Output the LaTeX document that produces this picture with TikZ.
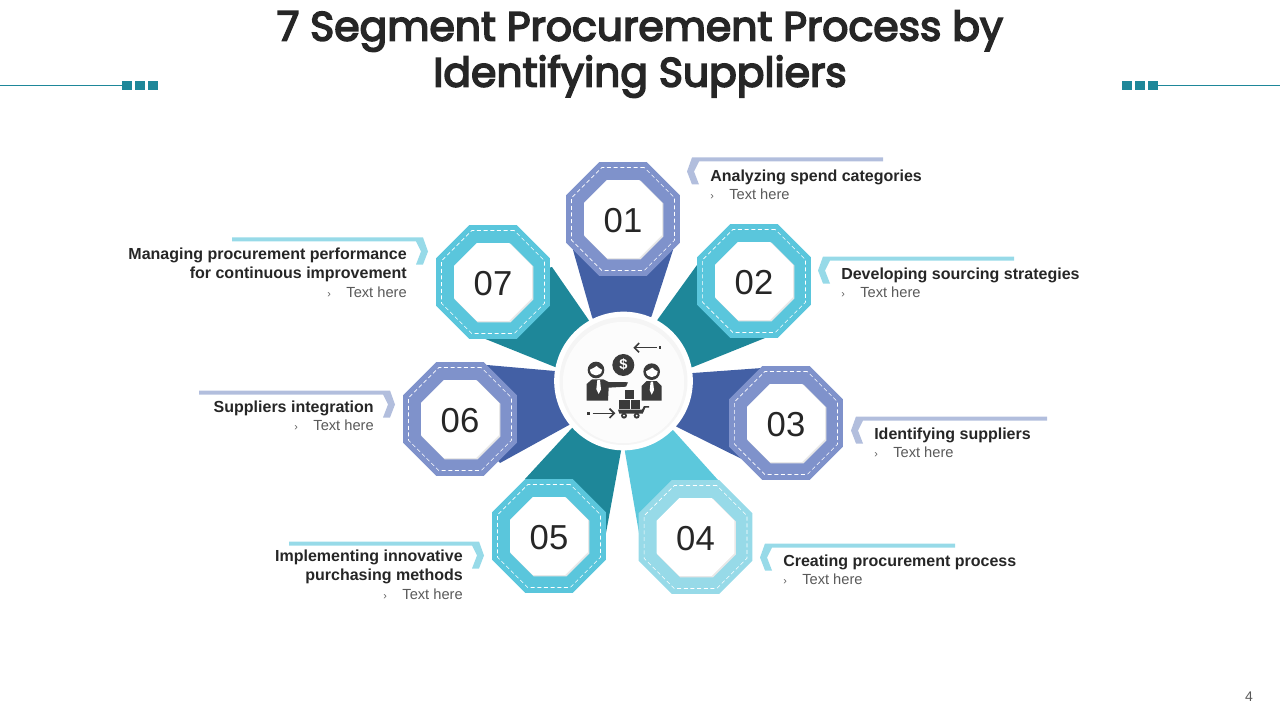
\documentclass[tikz,border=0pt]{standalone}
\usepackage{fontspec}
\setmainfont{Liberation Sans}
\newfontfamily\titlefont[FakeBold=4]{Poppins}
\usetikzlibrary{shapes.geometric,arrows.meta}
\definecolor{segblue}{RGB}{67,96,165}
\definecolor{segteal}{RGB}{30,135,153}
\definecolor{segcyan}{RGB}{92,200,220}
\definecolor{octblue}{RGB}{127,146,203}
\definecolor{octcyan}{RGB}{90,198,220}
\definecolor{octpale}{RGB}{151,218,232}
\definecolor{tabblue}{RGB}{178,190,221}
\definecolor{inkdark}{RGB}{38,38,38}
\definecolor{inkgray}{RGB}{89,89,89}
\definecolor{icongray}{RGB}{58,58,58}
\tikzset{
  octout/.style={regular polygon, regular polygon sides=8, minimum size=92.5pt, inner sep=0pt, outer sep=0pt},
  octdash/.style={octout, minimum size=83.5pt, draw=white, line width=0.5pt, dash pattern=on 3pt off 2pt},
  octshade/.style={octout, minimum size=64pt, fill=black!9},
  octin/.style={octout, minimum size=63.3pt, fill=white, font=\fontsize{26}{29}\selectfont, text=inkdark, text height=20.5pt, text depth=0pt},
  labelleft/.style={anchor=base west, align=left, inner sep=0pt, font=\fontsize{12}{13.9}\selectfont\bfseries, text=inkdark},
  labelright/.style={labelleft, anchor=base east, align=right}
}
\newcommand{\subline}{{\mdseries\fontsize{11}{13.9}\selectfont\color{inkgray}\makebox[14.25pt][l]{\fontsize{8}{8}\selectfont ›}Text here}}
\newcommand{\petal}[6]{\fill[#1] (ctr) -- #3 -- #4 -- (#2) -- #5 -- #6 -- cycle;}
\newcommand{\tabright}[4]{\fill[#1] (#2+5,#3) -- (#4,#3) -- (#4,#3+4) -- (#2+12,#3+4) -- (#2+7,#3+14) -- (#2+12,#3+27) -- (#2+5,#3+27) -- (#2,#3+14) -- cycle;}
\newcommand{\tableft}[4]{\fill[#1] (#2-5,#3) -- (#4,#3) -- (#4,#3+4) -- (#2-12,#3+4) -- (#2-7,#3+14) -- (#2-12,#3+27) -- (#2-5,#3+27) -- (#2,#3+14) -- cycle;}
\begin{document}
\begin{tikzpicture}[x=0.75pt, y=-0.75pt]
  \useasboundingbox (0,0) rectangle (1280,720);
  \coordinate (ctr) at (623.5,381);
  \coordinate (pos1) at (623,219);
  \coordinate (pos2) at (754,281);
  \coordinate (pos3) at (786,423);
  \coordinate (pos4) at (695.5,537);
  \coordinate (pos5) at (549,536);
  \coordinate (pos6) at (460,419);
  \coordinate (pos7) at (493,282);

  % title and page number
  \node [font=\titlefont\fontsize{30.7}{34.5}\selectfont, align=center, text=inkdark, inner sep=0pt] (title) at (640,54) {7 Segment Procurement Process by\\Identifying Suppliers};
  \node [font=\fontsize{10.5}{12}\selectfont, text=inkgray, inner sep=0pt] (pagenum) at (1249,697) {4};

  % rules beside the title
  \coordinate (ruleL) at (0,85.5);
  \coordinate (ruleR) at (1280,85.5);
  \node [fill=segteal, minimum size=7pt, inner sep=0pt] (sqa) at (127,85.5) {};
  \node [fill=segteal, minimum size=7pt, inner sep=0pt] (sqb) at (140,85.5) {};
  \node [fill=segteal, minimum size=7pt, inner sep=0pt] (sqc) at (153,85.5) {};
  \node [fill=segteal, minimum size=7pt, inner sep=0pt] (sqd) at (1127,85.5) {};
  \node [fill=segteal, minimum size=7pt, inner sep=0pt] (sqe) at (1140,85.5) {};
  \node [fill=segteal, minimum size=7pt, inner sep=0pt] (sqf) at (1153,85.5) {};
  \draw [segteal, line width=1pt] (ruleL) -- (sqa);
  \draw [segteal, line width=1pt] (sqf) -- (ruleR);

  % petals
  \petal{segblue}{pos1}{(592,317)}{(573,250)}{(673,250)}{(652,315)}
  \petal{segteal}{pos2}{(658,319)}{(697,265)}{(765,338)}{(693,367)}
  \petal{segblue}{pos3}{(693,373)}{(762,368)}{(750,463)}{(677,427)}
  \petal{segcyan}{pos4}{(673,430)}{(718,480)}{(639,533)}{(625,452)}
  \petal{segteal}{pos5}{(621,451)}{(606,533)}{(525,479)}{(572,428)}
  \petal{segblue}{pos6}{(569,425)}{(500,463)}{(487,365)}{(555,371)}
  \petal{segteal}{pos7}{(555,367)}{(483,338)}{(552,267)}{(588,319)}

  % octagons
  \node [octout, fill=octblue] (oct1) at (pos1) {};
  \node [octdash] at (oct1) {};
  \node [octshade] at ([shift={(1,1)}]oct1) {};
  \node [octin] at (oct1) {01};
  \node [octout, fill=octcyan] (oct2) at (pos2) {};
  \node [octdash] at (oct2) {};
  \node [octshade] at ([shift={(1,1)}]oct2) {};
  \node [octin] at (oct2) {02};
  \node [octout, fill=octblue] (oct3) at (pos3) {};
  \node [octdash] at (oct3) {};
  \node [octshade] at ([shift={(1,1)}]oct3) {};
  \node [octin] at (oct3) {03};
  \node [octout, fill=octpale] (oct4) at (pos4) {};
  \node [octdash] at (oct4) {};
  \node [octshade] at ([shift={(1,1)}]oct4) {};
  \node [octin] at (oct4) {04};
  \node [octout, fill=octcyan] (oct5) at (pos5) {};
  \node [octdash] at (oct5) {};
  \node [octshade] at ([shift={(1,1)}]oct5) {};
  \node [octin] at (oct5) {05};
  \node [octout, fill=octblue] (oct6) at (pos6) {};
  \node [octdash] at (oct6) {};
  \node [octshade] at ([shift={(1,1)}]oct6) {};
  \node [octin] at (oct6) {06};
  \node [octout, fill=octcyan] (oct7) at (pos7) {};
  \node [octdash] at (oct7) {};
  \node [octshade] at ([shift={(1,1)}]oct7) {};
  \node [octin] at (oct7) {07};

  % hub
  \node [circle, fill=white, minimum size=104pt, inner sep=0pt] (hub) at (ctr) {};
  \node [circle, fill=black!4, minimum size=96pt, inner sep=0pt] (hubring) at (ctr) {};
  \node [circle, fill=white!99!black, minimum size=91pt, inner sep=0pt] (hubface) at ([shift={(0,1.5)}]ctr) {};

  % icon inside the hub, traced at three times size
  \begin{scope}[shift={(540,300)}, x=0.25pt, y=-0.25pt]
    \fill[icongray] (168,210) circle (25);
    \fill[white] (150,209) .. controls (160,206) and (165,200) .. (170,198) .. controls (175,204) and (180,206) .. (186,209) .. controls (186,232) and (150,232) .. (150,209) -- cycle;
    \fill[icongray] (140,302) -- (140,252) -- (156,238) -- (190,238) -- (206,246) -- (246,246) -- (264,247) -- (258,260) -- (206,263) -- (204,302) -- cycle;
    \fill[white] (172,240) -- (180,240) -- (183,268) -- (176,282) -- (169,268) -- cycle;
    \fill[icongray] (335,215) circle (25);
    \fill[white] (318,214) .. controls (326,211) and (332,205) .. (337,203) .. controls (342,209) and (347,211) .. (353,214) .. controls (353,237) and (318,237) .. (318,214) -- cycle;
    \fill[icongray] (305,302) -- (305,258) -- (320,243) -- (350,243) -- (365,258) -- (365,302) -- cycle;
    \fill[white] (332,245) -- (339,245) -- (342,270) -- (335,284) -- (329,270) -- cycle;
    \node [circle, fill=icongray, text=white, minimum size=16.5pt, inner sep=0pt, font=\fontsize{11}{12}\selectfont\bfseries] (coin) at (250,195) {\$};
    \fill[icongray] (255,269) rectangle (282,296);
    \fill[icongray] (237,300) rectangle (269,326);
    \fill[icongray] (272,300) rectangle (299,326);
    \fill[icongray] (234,329) -- (306,329) -- (312,318) -- (327,318) -- (327,323) -- (316,323) -- (308,341) -- (238,341) -- cycle;
    \fill[icongray] (252,347) circle (9);
    \fill[icongray] (290,347) circle (9);
    \fill[white] (252,347) circle (3);
    \fill[white] (290,347) circle (3);
    \coordinate (topfrom) at (350,143);
    \coordinate (topto) at (280,143);
    \coordinate (lowfrom) at (158,340);
    \coordinate (lowto) at (226,340);
    \fill[icongray] (356,139) rectangle (364,147);
    \fill[icongray] (141,336) rectangle (149,344);
    \draw[-{Straight Barb[length=3.5pt,width=7pt,line width=1.2pt]}, icongray, line width=1.2pt] (topfrom) -- (topto);
    \draw[-{Straight Barb[length=3.5pt,width=7pt,line width=1.2pt]}, icongray, line width=1.2pt] (lowfrom) -- (lowto);
  \end{scope}

  % label tabs
  \tabright{tabblue}{687}{157.5}{883}
  \tabright{octpale}{818}{256.5}{1014}
  \tabright{tabblue}{851}{416.5}{1047}
  \tabright{octpale}{760}{543.5}{955}
  \tableft{octpale}{484}{541.5}{289}
  \tableft{tabblue}{395}{390.5}{199}
  \tableft{octpale}{428}{237.5}{232}

  % labels
  \node [labelleft] (lab1) at (710,199.7) {Analyzing spend categories\\[-0.4pt]\subline};
  \node [labelleft] (lab2) at (841,297.5) {Developing sourcing strategies\\[-0.4pt]\subline};
  \node [labelleft] (lab3) at (874,457.7) {Identifying suppliers\\[-0.4pt]\subline};
  \node [labelleft] (lab4) at (783,584.7) {Creating procurement process\\[-0.4pt]\subline};
  \node [labelright] (lab5) at (463,599) {Implementing innovative\\[0.35pt]purchasing methods\\[0.35pt]\subline};
  \node [labelright] (lab6) at (374,430.5) {Suppliers integration\\[-0.4pt]\subline};
  \node [labelright] (lab7) at (407,297) {Managing procurement performance\\[0.35pt]for continuous improvement\\[0.35pt]\subline};
\end{tikzpicture}
\end{document}
